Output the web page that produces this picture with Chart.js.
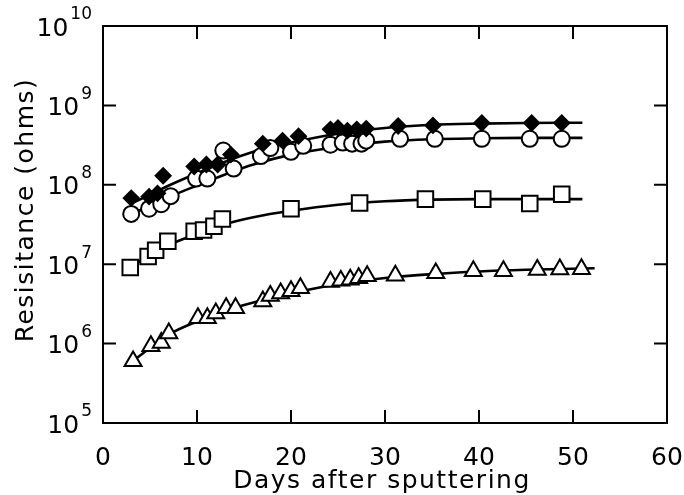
<!DOCTYPE html>
<html>
<head>
<meta charset="utf-8">
<script src="https://cdn.jsdelivr.net/npm/chart.js@4/dist/chart.umd.min.js"></script>
<style>
  html, body { margin: 0; padding: 0; background: #fff; }
  #wrap { width: 684px; height: 495px; }
</style>
</head>
<body>
<div id="wrap"><canvas id="resChart" width="684" height="495"></canvas></div>
<script>
// measured points (days, ohms)
const diamondDays = [3.0, 4.9, 5.8, 6.4, 9.7, 11.0, 12.2, 13.6, 17.0, 19.1, 20.8, 24.2, 25.0, 26.0, 27.0, 28.0, 31.4, 35.1, 40.3, 45.6, 48.8];
const diamondVals = [6.8e7, 7.1e7, 7.8e7, 1.3e8, 1.7e8, 1.8e8, 1.8e8, 2.4e8, 3.3e8, 3.6e8, 4.1e8, 5.0e8, 5.2e8, 4.8e8, 5.0e8, 5.1e8, 5.5e8, 5.6e8, 6.0e8, 6.0e8, 6.0e8];

const circleDays = [3.0, 4.9, 6.2, 7.2, 9.9, 11.1, 12.8, 13.9, 16.8, 17.8, 20.0, 21.3, 24.2, 25.5, 26.5, 27.5, 28.0, 31.6, 35.3, 40.3, 45.4, 48.8];
const circleVals = [4.3e7, 5.0e7, 5.7e7, 7.2e7, 1.2e8, 1.2e8, 2.7e8, 1.6e8, 2.3e8, 2.9e8, 2.6e8, 3.1e8, 3.2e8, 3.4e8, 3.3e8, 3.3e8, 3.6e8, 3.8e8, 3.8e8, 3.8e8, 3.8e8, 3.8e8];

const squareDays = [2.9, 4.8, 5.6, 6.9, 9.7, 10.7, 11.8, 12.7, 20.0, 27.3, 34.3, 40.4, 45.4, 48.8];
const squareVals = [9.1e6, 1.25e7, 1.5e7, 1.95e7, 2.6e7, 2.7e7, 3.0e7, 3.7e7, 5.0e7, 5.9e7, 6.6e7, 6.6e7, 5.8e7, 7.6e7];

const triangleDays = [3.2, 5.1, 6.2, 7.0, 10.1, 11.1, 12.0, 13.1, 14.1, 17.0, 17.8, 18.9, 20.0, 21.0, 24.2, 25.3, 26.3, 27.2, 28.1, 31.1, 35.4, 39.4, 42.6, 46.2, 48.6, 50.9];
const triangleVals = [6.0e5, 9.3e5, 1.02e6, 1.35e6, 2.1e6, 2.1e6, 2.4e6, 2.8e6, 2.8e6, 3.4e6, 4.0e6, 4.3e6, 4.6e6, 5.0e6, 6.0e6, 6.2e6, 6.4e6, 6.7e6, 7.1e6, 7.2e6, 7.7e6, 8.2e6, 8.2e6, 8.5e6, 8.6e6, 8.7e6];

// fitted curves
const fitDays = [3, 5, 7, 10, 13, 16, 20, 25, 30, 35, 40, 45, 51];
const diamondFit = [5.8e7, 7.5e7, 9.8e7, 1.4e8, 1.95e8, 2.6e8, 3.4e8, 4.4e8, 5.2e8, 5.7e8, 5.9e8, 6.0e8, 6.05e8];
const circleFit = [4.3e7, 5.4e7, 7.0e7, 9.8e7, 1.35e8, 1.8e8, 2.4e8, 3.0e8, 3.5e8, 3.75e8, 3.85e8, 3.9e8, 3.9e8];
const squareFitDays = [2.8, 5, 7, 10, 13, 16, 20, 25, 30, 35, 40, 45, 51];
const squareFit = [9.0e6, 1.3e7, 1.75e7, 2.4e7, 3.2e7, 3.9e7, 4.7e7, 5.6e7, 6.2e7, 6.5e7, 6.6e7, 6.6e7, 6.6e7];
const triangleFitDays = [3, 5, 7, 10, 13, 16, 20, 25, 30, 35, 40, 45, 52.3];
const triangleFit = [5.8e5, 8.8e5, 1.3e6, 1.9e6, 2.6e6, 3.3e6, 4.3e6, 5.6e6, 6.7e6, 7.5e6, 8.1e6, 8.5e6, 8.9e6];

const xTicks = [0, 10, 20, 30, 40, 50, 60];
const yExponents = [5, 6, 7, 8, 9, 10];

const FONT = '"DejaVu Sans", sans-serif';

function pts(xs, ys) {
    return xs.map((x, i) => ({ x: x, y: ys[i] }));
}

function markerSet(label, xs, ys, style, radius, fill) {
    return {
        label: label,
        data: pts(xs, ys),
        showLine: false,
        pointStyle: style,
        pointRadius: radius,
        pointBackgroundColor: fill,
        pointBorderColor: '#000',
        pointBorderWidth: 2,
        order: 1
    };
}

function fitSet(label, xs, ys) {
    return {
        label: label,
        data: pts(xs, ys),
        showLine: true,
        pointRadius: 0,
        borderColor: '#000',
        borderWidth: 2.6,
        cubicInterpolationMode: 'monotone',
        order: 2
    };
}

// frame, inward ticks and axis text
const framePlugin = {
    id: 'frame',
    afterDraw(chart) {
        const ctx = chart.ctx;
        const a = chart.chartArea;
        const xs = chart.scales.x;
        const ys = chart.scales.y;
        const tick = 13;
        ctx.save();
        ctx.strokeStyle = '#000';
        ctx.lineWidth = 2;
        ctx.strokeRect(a.left, a.top, a.right - a.left, a.bottom - a.top);
        ctx.beginPath();
        xTicks.slice(1, -1).forEach(v => {
            const px = xs.getPixelForValue(v);
            ctx.moveTo(px, a.bottom); ctx.lineTo(px, a.bottom - tick);
            ctx.moveTo(px, a.top); ctx.lineTo(px, a.top + tick);
        });
        yExponents.slice(1, -1).forEach(e => {
            const py = ys.getPixelForValue(Math.pow(10, e));
            ctx.moveTo(a.left, py); ctx.lineTo(a.left + tick, py);
            ctx.moveTo(a.right, py); ctx.lineTo(a.right - tick, py);
        });
        ctx.stroke();

        ctx.fillStyle = '#000';
        ctx.font = '25px ' + FONT;
        ctx.textAlign = 'center';
        ctx.textBaseline = 'middle';
        xTicks.forEach(v => {
            ctx.fillText(String(v), xs.getPixelForValue(v), a.bottom + 35);
        });

        yExponents.forEach(e => {
            const py = ys.getPixelForValue(Math.pow(10, e));
            const exp = String(e);
            ctx.font = '17px ' + FONT;
            const ew = ctx.measureText(exp).width;
            ctx.textAlign = 'right';
            ctx.textBaseline = 'middle';
            const expRight = a.left - 11;
            ctx.fillText(exp, expRight, py - 11);
            ctx.font = '25px ' + FONT;
            ctx.fillText('10', expRight - ew - 2, py + 3);
        });

        ctx.font = '25px ' + FONT;
        ctx.letterSpacing = '1.5px';
        ctx.textAlign = 'center';
        ctx.textBaseline = 'middle';
        ctx.fillText('Days after sputtering', (a.left + a.right) / 2 - 3, a.bottom + 58);

        ctx.translate(26, 210);
        ctx.rotate(-Math.PI / 2);
        ctx.fillText('Resisitance (ohms)', 0, 0);
        ctx.restore();
    }
};

const ctx = document.getElementById('resChart').getContext('2d');
new Chart(ctx, {
    type: 'scatter',
    data: {
        datasets: [
            markerSet('Diamonds', diamondDays, diamondVals, 'rectRot', 7.5, '#000'),
            markerSet('Circles', circleDays, circleVals, 'circle', 8, '#fff'),
            markerSet('Squares', squareDays, squareVals, 'rect', 11, '#fff'),
            markerSet('Triangles', triangleDays, triangleVals, 'triangle', 9.8, '#fff'),
            fitSet('Diamond fit', fitDays, diamondFit),
            fitSet('Circle fit', fitDays, circleFit),
            fitSet('Square fit', squareFitDays, squareFit),
            fitSet('Triangle fit', triangleFitDays, triangleFit)
        ]
    },
    options: {
        responsive: false,
        animation: false,
        layout: { padding: { left: 103, right: 17, top: 26, bottom: 72 } },
        plugins: {
            legend: { display: false },
            tooltip: { enabled: false }
        },
        scales: {
            x: { type: 'linear', min: 0, max: 60, display: false },
            y: { type: 'logarithmic', min: 1e5, max: 1e10, display: false }
        }
    },
    plugins: [framePlugin]
});
</script>
</body>
</html>
